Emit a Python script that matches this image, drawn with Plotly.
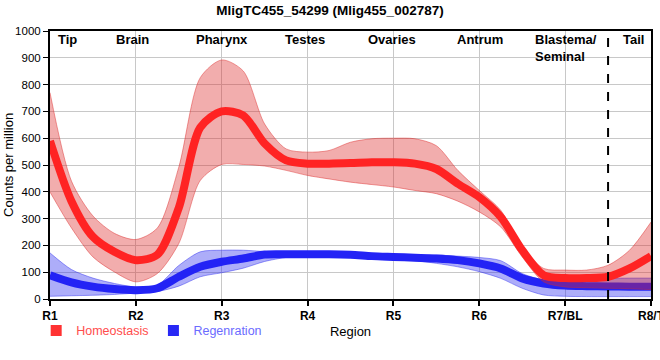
import plotly.graph_objects as go

x_pos = [1, 1.25, 1.5, 1.75, 2, 2.25, 2.5, 2.75, 3, 3.25, 3.5, 3.75, 4, 4.25, 4.5, 4.75,
         5, 5.25, 5.5, 5.75, 6, 6.25, 6.5, 6.75, 7, 7.25, 7.5, 7.75, 8]

homeo_mean = [590, 365, 232, 176, 145, 165, 340, 640, 700, 685, 580, 517, 505, 505, 507, 510,
              510, 505, 485, 430, 380, 306, 182, 89, 78, 78, 83, 114, 160]
homeo_upper = [770, 440, 310, 245, 222, 265, 492, 826, 892, 851, 653, 560, 548, 554, 585, 598,
               600, 598, 572, 480, 405, 331, 194, 114, 108, 108, 126, 182, 287]
homeo_lower = [399, 265, 157, 101, 64, 95, 207, 442, 502, 502, 496, 480, 461, 448, 436, 427,
               418, 405, 393, 365, 325, 269, 157, 64, 45, 42, 40, 38, 35]

regen_mean = [89, 62, 46, 37, 33, 40, 83, 120, 139, 151, 166, 167, 167, 167, 165, 160,
              157, 154, 151, 145, 133, 114, 77, 58, 50, 48, 47, 46, 46]
regen_upper = [172, 110, 78, 58, 45, 52, 125, 176, 182, 182, 177, 173, 172, 172, 171, 168,
               165, 165, 164, 160, 155, 143, 95, 72, 77, 77, 77, 78, 78]
regen_lower = [10, 12, 14, 17, 22, 28, 48, 83, 98, 115, 140, 155, 160, 158, 155, 150,
               148, 143, 133, 120, 102, 77, 40, 15, 10, 9, 9, 9, 9]

tick_vals = [1, 2, 3, 4, 5, 6, 7, 8]
tick_text = ["R1", "R2", "R3", "R4", "R5", "R6", "R7/BL", "R8/T"]

region_names = ["Tip", "Brain", "Pharynx", "Testes", "Ovaries", "Antrum", "Blastema/<br>Seminal", "Tail"]
region_x = [1.2, 1.96, 3.0, 3.97, 4.98, 6.01, 6.62, 7.8]
region_anchor = ["center", "center", "center", "center", "center", "center", "left", "center"]

boundary_x = 7.5

SANS = "Liberation Sans, Arial, sans-serif"

sp = dict(shape="spline", smoothing=0.8)

fig = go.Figure()

# Regeneration band
fig.add_trace(go.Scatter(x=x_pos, y=regen_lower, mode="lines",
                         line=dict(color="rgba(40,40,240,0.45)", width=1, **sp),
                         showlegend=False, hoverinfo="skip"))
fig.add_trace(go.Scatter(x=x_pos, y=regen_upper, mode="lines", fill="tonexty",
                         fillcolor="rgba(40,40,240,0.38)",
                         line=dict(color="rgba(40,40,240,0.45)", width=1, **sp),
                         showlegend=False, hoverinfo="skip"))
fig.add_trace(go.Scatter(x=x_pos, y=regen_mean, mode="lines",
                         line=dict(color="rgb(35,35,245)", width=8, **sp),
                         showlegend=False))

# Homeostasis band
fig.add_trace(go.Scatter(x=x_pos, y=homeo_lower, mode="lines",
                         line=dict(color="rgba(220,40,40,0.45)", width=1, **sp),
                         showlegend=False, hoverinfo="skip"))
fig.add_trace(go.Scatter(x=x_pos, y=homeo_upper, mode="lines", fill="tonexty",
                         fillcolor="rgba(220,40,40,0.38)",
                         line=dict(color="rgba(220,40,40,0.45)", width=1, **sp),
                         showlegend=False, hoverinfo="skip"))
fig.add_trace(go.Scatter(x=x_pos, y=homeo_mean, mode="lines",
                         line=dict(color="rgb(255,35,35)", width=8, **sp),
                         showlegend=False))

# legend entries
fig.add_trace(go.Scatter(x=[None], y=[None], mode="markers",
                         marker=dict(symbol="square", size=11, color="rgb(255,50,50)"),
                         name="<span style='color:#ff4d4d'>Homeostasis</span>"))
fig.add_trace(go.Scatter(x=[None], y=[None], mode="markers",
                         marker=dict(symbol="square", size=11, color="rgb(40,40,245)"),
                         name="<span style='color:#6b6bff'>Regenration</span>"))

# boundary dashed line
fig.add_shape(type="line", x0=boundary_x, x1=boundary_x, y0=0, y1=1, yref="paper",
              line=dict(color="black", width=2, dash="dash"))

for name, xv, anc in zip(region_names, region_x, region_anchor):
    fig.add_annotation(x=xv, y=1, yref="paper", text="<b>%s</b>" % name, showarrow=False,
                       xanchor=anc, yanchor="top", align="left", yshift=1,
                       font=dict(family=SANS, size=13, color="black"))

# y-axis title
fig.add_annotation(x=-0.07, xref="paper", y=0.5, yref="paper", text="Counts per million",
                   textangle=-90, showarrow=False, xanchor="center", yanchor="middle",
                   font=dict(family=SANS, size=13, color="black"))

fig.update_layout(
    width=660, height=360,
    margin=dict(l=50, r=9, t=31, b=61),
    paper_bgcolor="white", plot_bgcolor="white",
    title=dict(text="<b>MligTC455_54299 (Mlig455_002787)</b>", x=0.5, xanchor="center",
               y=0.971, yanchor="middle", font=dict(family=SANS, size=13.5, color="black")),
    legend=dict(orientation="h", x=-0.023, xanchor="left", y=-0.119, yanchor="middle",
                font=dict(family=SANS, size=12.5), itemwidth=30, tracegroupgap=0,
                traceorder="normal", bgcolor="rgba(0,0,0,0)"),
    showlegend=True,
)

fig.update_xaxes(range=[1, 8], tickvals=tick_vals, ticktext=["<b>%s</b>" % t for t in tick_text],
                 showgrid=True, gridcolor="#c8c8c8", gridwidth=1, automargin=False,
                 ticklabeloverflow="allow",
                 showline=True, linecolor="black", linewidth=2, mirror=True,
                 ticks="outside", ticklen=5, tickcolor="black", tickwidth=1.5,
                 tickfont=dict(family=SANS, size=12, color="black"),
                 title=dict(text="Region", font=dict(family=SANS, size=13, color="black"), standoff=4),
                 zeroline=False)
fig.update_yaxes(range=[0, 1000], dtick=100, automargin=False,
                 showgrid=True, gridcolor="#c8c8c8", gridwidth=1,
                 showline=True, linecolor="black", linewidth=2, mirror=True,
                 ticks="outside", ticklen=5, tickcolor="black", tickwidth=1,
                 tickfont=dict(family=SANS, size=11.5, color="black"),
                 zeroline=False)

# remove the browser's default 8px page margin so the figure sits at the window's corner
fig.write_html("out.html", config={"displayModeBar": False},
               post_script="document.body.style.margin='0px';")
